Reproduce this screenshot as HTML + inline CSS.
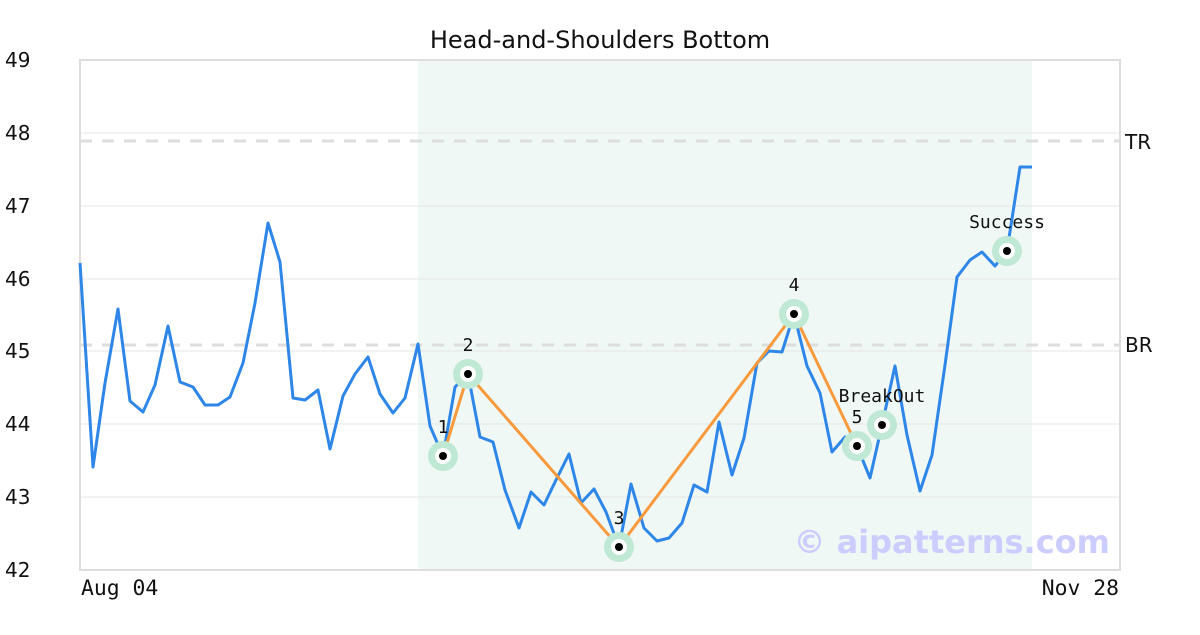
<!DOCTYPE html>
<html><head><meta charset="utf-8"><style>
body{margin:0;background:#fff}
svg text{font-family:"DejaVu Sans","Liberation Sans",sans-serif}
svg text.m{font-family:"DejaVu Sans Mono","Liberation Mono",monospace}
</style></head><body>
<svg width="1200" height="630" xmlns="http://www.w3.org/2000/svg">
<rect width="1200" height="630" fill="#fff"/>
<rect x="418" y="60" width="614" height="510" fill="#eff8f5"/>
<g stroke="#e6e6e6" stroke-width="1">
<line x1="80" x2="1120" y1="133" y2="133"/><line x1="80" x2="1120" y1="206" y2="206"/>
<line x1="80" x2="1120" y1="279" y2="279"/><line x1="80" x2="1120" y1="351" y2="351"/>
<line x1="80" x2="1120" y1="424" y2="424"/><line x1="80" x2="1120" y1="497" y2="497"/>
</g>
<g stroke="#dddddd" stroke-width="3" stroke-dasharray="12,10">
<line x1="80" x2="1120" y1="141" y2="141"/><line x1="80" x2="1120" y1="345" y2="345"/>
</g>
<rect x="80" y="60" width="1040" height="510" fill="none" stroke="#dddddd" stroke-width="2"/>
<text x="600" y="48" font-size="24" text-anchor="middle" fill="#111">Head-and-Shoulders Bottom</text>
<g font-size="20" fill="#111">
<text x="5" y="67">49</text><text x="5" y="140">48</text><text x="5" y="213">47</text>
<text x="5" y="286">46</text><text x="5" y="358">45</text><text x="5" y="431">44</text>
<text x="5" y="504">43</text><text x="5" y="577">42</text>
<text x="1125" y="149">TR</text><text x="1125" y="352">BR</text>
</g>
<g font-size="21.4" fill="#111">
<text class="m" x="81" y="595">Aug 04</text>
<text class="m" x="1119" y="595" text-anchor="end">Nov 28</text>
</g>
<text x="1110" y="553" font-size="32" font-weight="bold" text-anchor="end" fill="#ccccff">© aipatterns.com</text>
<polyline fill="none" stroke="#2e86e8" stroke-width="3" stroke-linejoin="round" points="80,263 93,467 105,383 118,309 130,401 143,412 155,385 168,326 180,382 193,387 205,405 218,405 230,397 243,363 255,303 268,223 280,262 293,398 305,400 318,390 330,449 343,396 355,374 368,357 380,394 393,413 405,398 418,344 430,426 443,456 455,387 462,380 468,374 480,437 493,442 505,490 519,528 531,492 544,505 556,480 569,454 581,503 594,489 606,512 619,547 631,484 644,528 657,541 669,538 682,523 694,485 707,492 719,422 732,475 744,438 757,363 769,351 782,352 794,314 807,366 820,393 832,452 845,437 857,446 870,478 882,425 895,366 907,435 920,491 932,455 945,365 957,277 970,260 982,252 995,266 1007,251 1020,167 1032,167"/>
<polyline fill="none" stroke="#f79a3e" stroke-width="3" points="443,456 468,374 619,547 794,314 857,446"/>
<g>
<g fill="#bfe8d5">
<circle cx="443" cy="456" r="15"/><circle cx="468" cy="374" r="15"/><circle cx="619" cy="547" r="15"/>
<circle cx="794" cy="314" r="15"/><circle cx="857" cy="446" r="15"/><circle cx="882" cy="425" r="15"/><circle cx="1007" cy="251" r="15"/>
</g>
<g fill="#fff">
<circle cx="443" cy="456" r="8"/><circle cx="468" cy="374" r="8"/><circle cx="619" cy="547" r="8"/>
<circle cx="794" cy="314" r="8"/><circle cx="857" cy="446" r="8"/><circle cx="882" cy="425" r="8"/><circle cx="1007" cy="251" r="8"/>
</g>
<g fill="#000">
<circle cx="443" cy="456" r="4"/><circle cx="468" cy="374" r="4"/><circle cx="619" cy="547" r="4"/>
<circle cx="794" cy="314" r="4"/><circle cx="857" cy="446" r="4"/><circle cx="882" cy="425" r="4"/><circle cx="1007" cy="251" r="4"/>
</g>
</g>
<g font-size="18" fill="#111" text-anchor="middle">
<text class="m" x="443" y="433">1</text><text class="m" x="468" y="351">2</text><text class="m" x="619" y="524">3</text>
<text class="m" x="794" y="291">4</text><text class="m" x="857" y="423">5</text><text class="m" x="882" y="402">BreakOut</text><text class="m" x="1007" y="228">Success</text>
</g>
</svg>
</body></html>
